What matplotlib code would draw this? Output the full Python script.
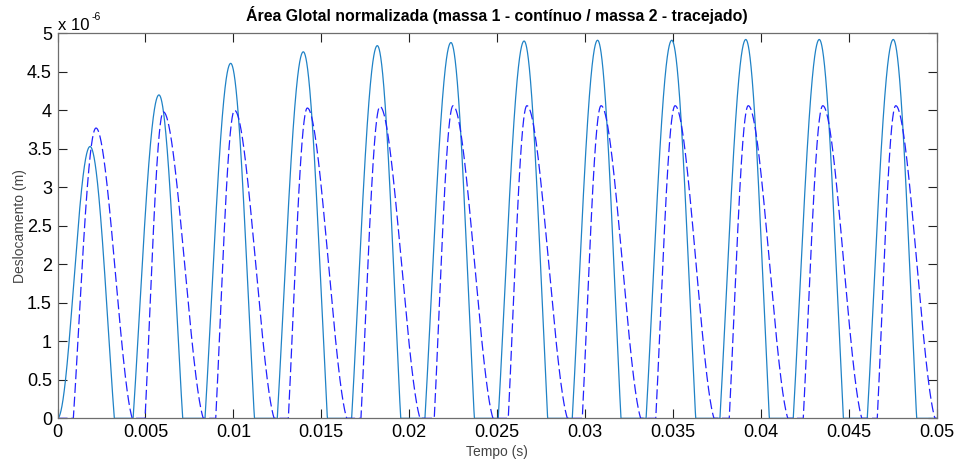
import numpy as np
import matplotlib
matplotlib.use("Agg")
import matplotlib.pyplot as plt
from matplotlib.ticker import FixedLocator, FuncFormatter

plt.rcParams['font.family'] = ['Liberation Sans', 'DejaVu Sans']

# Glottal pulses, one entry per cycle: opening time, peak time, peak (x1e-6 m), closing time
solid_open = [0.0, 0.00430, 0.00839, 0.01250, 0.01673, 0.02090, 0.02507, 0.02928, 0.03348, 0.03768, 0.04185, 0.04606]
solid_peak_t = [0.00185, 0.00577, 0.00985, 0.01398, 0.01819, 0.02238, 0.02654, 0.03072, 0.03494, 0.03915, 0.04333, 0.04754]
solid_peak = [3.53, 4.20, 4.61, 4.76, 4.84, 4.88, 4.90, 4.91, 4.91, 4.92, 4.92, 4.92]
solid_close = [0.00323, 0.00712, 0.01120, 0.01535, 0.01952, 0.02371, 0.02788, 0.03205, 0.03630, 0.04049, 0.04470, 0.04887]

dashed_open = [0.00090, 0.00498, 0.00900, 0.01313, 0.01726, 0.02143, 0.02564, 0.02985, 0.03403, 0.03821, 0.04242, 0.04663]
dashed_peak_t = [0.00219, 0.00602, 0.01007, 0.01421, 0.01834, 0.02250, 0.02670, 0.03092, 0.03513, 0.03929, 0.04353, 0.04768]
dashed_peak = [3.77, 3.98, 4.00, 4.03, 4.05, 4.06, 4.06, 4.06, 4.06, 4.06, 4.06, 4.06]
dashed_close = [0.00425, 0.00829, 0.01232, 0.01645, 0.02062, 0.02477, 0.02900, 0.03317, 0.03734, 0.04154, 0.04575, 0.04991]

x_ticks = [0, 0.005, 0.01, 0.015, 0.02, 0.025, 0.03, 0.035, 0.04, 0.045, 0.05]
y_ticks = [0, 0.5, 1, 1.5, 2, 2.5, 3, 3.5, 4, 4.5, 5]
SCALE = 1e-6


def arch(s, theta0=2.1):
    """Top of a cosine above its clipping level, s in [0, 1] from peak to zero."""
    return (np.cos(theta0 * s) - np.cos(theta0)) / (1 - np.cos(theta0))


def tail(s, c=1.6):
    """Closing phase that drops fast after the peak and eases into closure."""
    return 1 - (1 + c) * s ** 2 + c * s ** 3


def pulse_train(t, opens, peak_ts, peaks, closes, rest_start=False, fall_shape=arch):
    y = np.zeros_like(t)
    for i, (t0, tp, p, t1) in enumerate(zip(opens, peak_ts, peaks, closes)):
        rise = (t >= t0) & (t <= tp)
        fall = (t > tp) & (t <= t1)
        s_r = (tp - t[rise]) / (tp - t0)
        if rest_start and i == 0:
            y[rise] = p * (1 + np.cos(np.pi * s_r)) / 2
        else:
            y[rise] = p * arch(s_r)
        s_f = (t[fall] - tp) / (t1 - tp)
        y[fall] = p * fall_shape(s_f)
    return y * SCALE


t = np.linspace(0, 0.05, 20001)
y1 = pulse_train(t, solid_open, solid_peak_t, solid_peak, solid_close, rest_start=True)
y2 = pulse_train(t, dashed_open, dashed_peak_t, dashed_peak, dashed_close, fall_shape=tail)

fig = plt.figure(figsize=(9.57, 4.63), dpi=100)
ax = fig.add_axes([0.0601, 0.0965, 0.9185, 0.8315])

ax.plot(t, y1, color='#1f82c6', lw=0.9)
ln, = ax.plot(t, y2, color='#2222ff', lw=0.9)
ln.set_dashes([8, 3])

ax.set_xlim(0, 0.05)
ax.set_ylim(0, 5 * SCALE)
ax.xaxis.set_major_locator(FixedLocator(x_ticks))
ax.yaxis.set_major_locator(FixedLocator([v * SCALE for v in y_ticks]))
ax.xaxis.set_major_formatter(FuncFormatter(lambda v, _: '%g' % round(v, 6)))
ax.yaxis.set_major_formatter(FuncFormatter(lambda v, _: '%g' % round(v / SCALE, 6)))

ax.tick_params(direction='in', length=6.5, width=0.8, top=True, right=True,
               labelsize=13, pad=4, color='#222222')
for sp in ax.spines.values():
    sp.set_color('#6e6e6e')
    sp.set_linewidth(0.9)

ax.set_title('Área Glotal normalizada (massa 1 - contínuo / massa 2 - tracejado)',
             fontsize=11.4, fontweight='bold', pad=9)
ax.set_xlabel('Tempo (s)', fontsize=10, color='#444444')
ax.set_ylabel('Deslocamento (m)', fontsize=10, color='#444444')
ax.xaxis.set_label_coords(0.5, -0.07)
ax.yaxis.set_label_coords(-0.035, 0.5)

ax.text(0.0, 1.008, 'x 10', transform=ax.transAxes, fontsize=12, ha='left', va='baseline')
ax.text(0.039, 1.0345, '-6', transform=ax.transAxes, fontsize=7.5, ha='left', va='baseline')

fig.savefig('out.png', dpi=100)
